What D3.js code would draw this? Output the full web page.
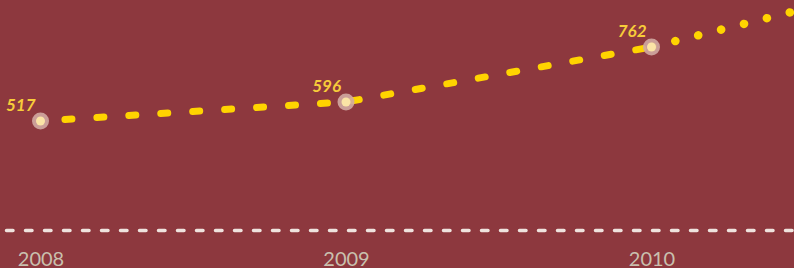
<!DOCTYPE html>
<html>
<head>
<meta charset="utf-8">
<script src="https://cdn.jsdelivr.net/npm/d3@7"></script>
<style>
  body { margin: 0; background: #8d383e; overflow: hidden; }
  svg { display: block; }
</style>
</head>
<body>
<div id="chart"></div>
<script>
const years = [2008, 2009, 2010, 2011]
const values = [517, 596, 762, 925]
const tickYears = [2008, 2009, 2010]
// index of the last "actual" value, after it the line turns into dots
const lastActual = 2

const width = 794
const height = 268
const baseY = 230.5

const svg = d3.select("#chart")
  .append("svg")
  .attr("width", width)
  .attr("height", height)

const data = years.map((y, i) => ({year: y, value: values[i]}))

const x = d3.scaleLinear()
  .domain([2008, 2010])
  .range([40.5, 651.5])

// the values are not spread evenly on screen, a power scale fits them
const y = d3.scalePow()
  .exponent(2.6)
  .domain([0, 762])
  .range([163.4, 47])

// baseline
svg.append("line")
  .attr("x1", 0)
  .attr("x2", width)
  .attr("y1", baseY)
  .attr("y2", baseY)
  .attr("stroke", "#efe3de")
  .attr("stroke-width", 3.5)
  .attr("stroke-linecap", "round")
  .attr("stroke-dasharray", "6.5 12.5")
  .attr("stroke-dashoffset", -6.5)

// axis bottom
const axis = svg.append("g")
  .attr("transform", `translate(0, ${baseY})`)
  .call(d3.axisBottom(x)
    .tickValues(tickYears)
    .tickFormat(d3.format("d"))
    .tickSize(0)
    .tickPadding(21))

axis.select(".domain").remove()
axis.selectAll("text")
  .attr("fill", "#c9c0ae")
  .style("font-family", "Lato, 'Open Sans', sans-serif")
  .style("font-size", "20px")

const line = d3.line()
  .x(d => x(d.year))
  .y(d => y(d.value))

// dashed part
svg.append("path")
  .datum(data.slice(0, lastActual + 1))
  .attr("fill", "none")
  .attr("stroke", "#ffd400")
  .attr("stroke-width", 7)
  .attr("stroke-linecap", "round")
  .attr("stroke-dasharray", "7 25")
  .attr("stroke-dashoffset", 7.5)
  .attr("d", line)

// dotted part
svg.append("path")
  .datum(data.slice(lastActual))
  .attr("fill", "none")
  .attr("stroke", "#ffd400")
  .attr("stroke-width", 8.5)
  .attr("stroke-linecap", "round")
  .attr("stroke-dasharray", "0.1 23.5")
  .attr("stroke-dashoffset", -0.9)
  .attr("d", line)

// points
const pts = svg.selectAll(".pt")
  .data(data)
  .join("g")
  .attr("class", "pt")
  .attr("transform", d => `translate(${x(d.year)}, ${y(d.value)})`)

pts.append("circle")
  .attr("r", 8.5)
  .attr("fill", "#d2aaa2")
  .attr("fill-opacity", 0.9)

pts.append("circle")
  .attr("r", 4.5)
  .attr("fill", "#fbe4a6")

pts.append("text")
  .attr("x", -5)
  .attr("y", -10)
  .attr("text-anchor", "end")
  .attr("fill", "#f7cc3a")
  .style("font-family", "Lato, 'Open Sans', sans-serif")
  .style("font-style", "italic")
  .style("font-weight", "bold")
  .style("font-size", "17px")
  .text(d => d.value)
</script>
</body>
</html>
